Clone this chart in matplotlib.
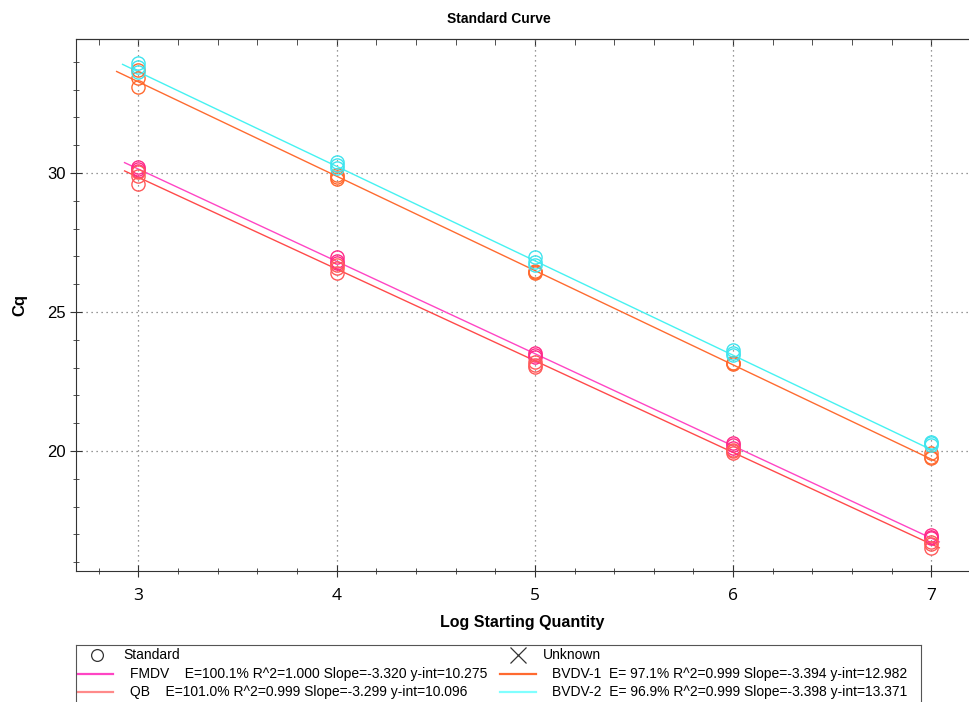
import numpy as np
import matplotlib
matplotlib.use("Agg")
import matplotlib.pyplot as plt
from matplotlib.ticker import MultipleLocator

plt.rcParams['font.family'] = ['Liberation Sans', 'DejaVu Sans']

# log starting quantity of the standards
log_qty = [3, 4, 5, 6, 7]

# Cq replicates per standard (three per dilution)
fmdv_cq = [[30.20, 30.15, 30.08], [26.99, 26.85, 26.75], [23.54, 23.45, 23.39],
           [20.28, 20.20, 20.10], [16.98, 16.90, 16.86]]
qb_cq = [[30.05, 29.89, 29.60], [26.69, 26.57, 26.39], [23.21, 23.10, 23.03],
         [20.04, 19.98, 19.92], [16.74, 16.65, 16.50]]
bvdv1_cq = [[33.70, 33.40, 33.08], [29.93, 29.85, 29.77], [26.49, 26.44, 26.39],
            [23.18, 23.15, 23.12], [19.92, 19.79, 19.74]]
bvdv2_cq = [[33.94, 33.82, 33.64], [30.41, 30.29, 30.17], [26.99, 26.81, 26.69],
            [23.63, 23.51, 23.45], [20.33, 20.28, 20.22]]

# fitted lines: slope from legend, offset (Cq at log qty 0)
slopes = [-3.320, -3.299, -3.394, -3.398]
offsets = [40.10, 39.74, 43.46, 43.83]
line_start = [2.93, 2.93, 2.89, 2.92]
line_end = [7.04, 7.04, 7.02, 7.0]

names = ["FMDV", "QB", "BVDV-1", "BVDV-2"]
stats = ["    E=100.1% R^2=1.000 Slope=-3.320 y-int=10.275",
         "    E=101.0% R^2=0.999 Slope=-3.299 y-int=10.096",
         "  E= 97.1% R^2=0.999 Slope=-3.394 y-int=12.982",
         "  E= 96.9% R^2=0.999 Slope=-3.398 y-int=13.371"]
line_colors = ["#ff45c4", "#ff4a4a", "#ff6a30", "#45f2f2"]
dot_colors = ["#ff2a88", "#ff5a5a", "#ff6a30", "#40e4ee"]
legend_colors = ["#ff45c4", "#ff8a8a", "#ff6a30", "#80ffff"]

fig = plt.figure(figsize=(9.69, 7.02), dpi=100)
ax = fig.add_axes([76 / 969, 1 - 571 / 702, (969 - 76) / 969, (571 - 39) / 702])

all_cq = [fmdv_cq, qb_cq, bvdv1_cq, bvdv2_cq]
for i in range(4):
    xs = np.linspace(line_start[i], line_end[i], 2)
    ax.plot(xs, slopes[i] * xs + offsets[i], color=line_colors[i], lw=1.0, zorder=3)
for i in range(4):
    for j, x in enumerate(log_qty):
        ax.plot([x] * len(all_cq[i][j]), all_cq[i][j], 'o', ms=9.5, mfc='none',
                mec=dot_colors[i], mew=1.0, zorder=4)

ax.set_xlim(2.685, 7.19)
ax.set_ylim(15.68, 34.82)
ax.xaxis.set_major_locator(MultipleLocator(1))
ax.xaxis.set_minor_locator(MultipleLocator(0.2))
ax.yaxis.set_major_locator(MultipleLocator(5))
ax.yaxis.set_minor_locator(MultipleLocator(1))
ax.grid(True, which='major', linestyle=(0, (1, 3)), color='#777777', lw=0.9)
ax.spines['right'].set_visible(False)
for s in ['left', 'bottom', 'top']:
    ax.spines[s].set_color('#333333')
ax.tick_params(axis='both', which='both', direction='inout', colors='#333333')
ax.tick_params(axis='both', which='major', length=8)
ax.tick_params(axis='both', which='minor', length=5)
ax.tick_params(axis='x', which='major', pad=8)
for lab in ax.get_xticklabels():
    lab.set_fontfamily(['Open Sans', 'DejaVu Sans'])
    lab.set_fontsize(12.5)
    lab.set_color('black')
for lab in ax.get_yticklabels():
    lab.set_fontsize(12)
    lab.set_color('black')

top = ax.secondary_xaxis('top')
top.xaxis.set_major_locator(MultipleLocator(1))
top.xaxis.set_minor_locator(MultipleLocator(0.2))
top.tick_params(which='both', direction='in', labeltop=False, colors='#333333')
top.tick_params(which='major', length=5)
top.tick_params(which='minor', length=4)
top.spines['top'].set_color('#333333')

ax.set_xlabel("Log Starting Quantity", fontsize=11.5, fontweight='bold', labelpad=8)
ax.set_ylabel("Cq", fontsize=12, fontweight='bold', labelpad=14)
fig.text(0.515, 1 - 19 / 702, "Standard Curve", ha='center', va='center',
         fontsize=10, fontweight='bold')

# legend box drawn in pixel coordinates of the image
lg = fig.add_axes([76 / 969, -14 / 702, (921 - 76) / 969, (716 - 645) / 702])
lg.set_xlim(76, 921)
lg.set_ylim(716, 645)
lg.set_xticks([])
lg.set_yticks([])
for s in lg.spines.values():
    s.set_color('#555555')
    s.set_linewidth(0.8)

fs = 10
lg.plot([97], [655], 'o', ms=8.5, mfc='none', mec='#333333', mew=0.9)
lg.text(123, 655, "Standard", fontsize=fs, va='center')
lg.plot([518], [655], 'x', ms=11, mec='#333333', mew=0.9)
lg.text(543, 655, "Unknown", fontsize=fs, va='center')
rows = [674, 692, 674, 692]
x0 = [77, 77, 500, 500]
tx = [130, 130, 552, 552]
for i in range(4):
    lg.plot([x0[i], x0[i] + 36], [rows[i], rows[i]], color=legend_colors[i], lw=1.6)
    lg.text(tx[i], rows[i], names[i] + stats[i], fontsize=fs, va='center')

fig.savefig("out.png", dpi=100)
